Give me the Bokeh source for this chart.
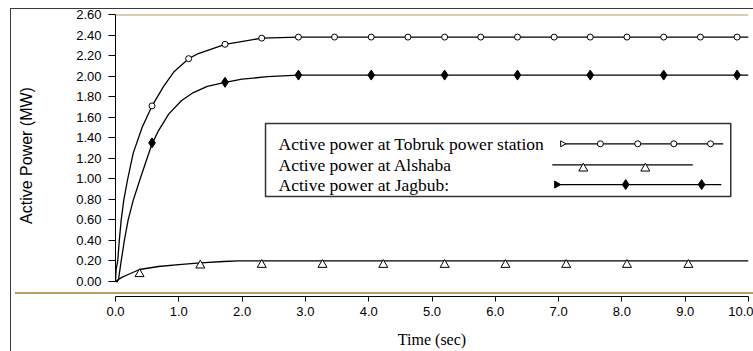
from bokeh.plotting import figure
from bokeh.models import Range1d, FixedTicker, NumeralTickFormatter, Span, Label
from bokeh.embed import file_html
from bokeh.resources import INLINE

# ---- data ----
tobruk_t = [0, 0.01, 0.035, 0.06, 0.09, 0.13, 0.19, 0.28, 0.42, 0.577, 0.76, 0.92, 1.155,
            1.31, 1.73, 1.94, 2.31, 2.89, 10.0]
tobruk_p = [0, 0.12, 0.2, 0.4, 0.6, 0.79, 0.99, 1.25, 1.5, 1.71, 1.9, 2.04, 2.17,
            2.22, 2.31, 2.33, 2.37, 2.38, 2.38]
tobruk_mark_t = [0.577, 1.155, 1.73, 2.31, 2.89, 3.46, 4.04, 4.62, 5.2, 5.77, 6.35, 6.93,
                 7.5, 8.08, 8.66, 9.24, 9.82]
tobruk_mark_p = [1.71, 2.17, 2.31, 2.37, 2.38, 2.38, 2.38, 2.38, 2.38, 2.38, 2.38, 2.38,
                 2.38, 2.38, 2.38, 2.38, 2.38]

alshaba_t = [0, 0.1, 0.2, 0.38, 0.68, 1.0, 1.34, 1.71, 1.94, 2.5, 10.0]
alshaba_p = [0.0, 0.04, 0.068, 0.117, 0.146, 0.165, 0.182, 0.195, 0.2, 0.2, 0.2]
alshaba_mark_t = [0.38, 1.34, 2.31, 3.27, 4.23, 5.2, 6.16, 7.12, 8.08, 9.05]
alshaba_mark_p = [0.073, 0.157, 0.163, 0.163, 0.163, 0.163, 0.163, 0.163, 0.163, 0.163]

jagbub_t = [0, 0.03, 0.05, 0.09, 0.14, 0.2, 0.28, 0.39, 0.51, 0.577, 0.68, 0.84, 1.04,
            1.23, 1.45, 1.73, 2.0, 2.4, 2.89, 10.0]
jagbub_p = [0, 0.0, 0.03, 0.2, 0.4, 0.6, 0.79, 1.0, 1.22, 1.34, 1.47, 1.63, 1.76,
            1.84, 1.9, 1.94, 1.97, 1.995, 2.01, 2.01]
jagbub_mark_t = [0.577, 1.73, 2.89, 4.04, 5.2, 6.35, 7.5, 8.66, 9.82]
jagbub_mark_p = [1.35, 1.94, 2.01, 2.01, 2.01, 2.01, 2.01, 2.01, 2.01]

y_ticks = [0.0, 0.2, 0.4, 0.6, 0.8, 1.0, 1.2, 1.4, 1.6, 1.8, 2.0, 2.2, 2.4, 2.6]
x_ticks = [0, 1, 2, 3, 4, 5, 6, 7, 8, 9, 10]

legend_labels = ["Active power at Tobruk power station",
                 "Active power at Alshaba",
                 "Active power at Jagbub:"]

SANS = "Liberation Sans"
SERIF = "Liberation Serif"
GOLD = "#B3A063"

p = figure(width=753, height=351, output_backend="svg", toolbar_location=None,
           x_range=Range1d(0, 10), y_range=Range1d(-0.146, 2.6),
           min_border_left=115, min_border_right=5, min_border_top=14, min_border_bottom=55)
p.outline_line_color = None
p.grid.grid_line_color = None
p.background_fill_alpha = 0
p.border_fill_alpha = 0
# outer chart frame (left/top edges) and the lower gold rule, drawn behind the canvas
p.styles = {
    "background-color": "white",
    "background-image": ("linear-gradient(#3a3a3a,#3a3a3a), linear-gradient(#3a3a3a,#3a3a3a), "
                         "linear-gradient(%s,%s)" % (GOLD, GOLD)),
    "background-repeat": "no-repeat",
    "background-position": "10px 8px, 10px 8px, 15px 292px",
    "background-size": "1px 100%, 100% 1px, 100% 2px",
}

# axes
p.yaxis.ticker = FixedTicker(ticks=y_ticks)
p.yaxis.formatter = NumeralTickFormatter(format="0.00")
p.yaxis.bounds = (0, 2.6)
p.yaxis.axis_label = "Active Power (MW)"
p.yaxis.axis_label_text_font = SANS
p.yaxis.axis_label_text_font_size = "16px"
p.yaxis.axis_label_text_font_style = "normal"
p.yaxis.axis_label_text_color = "black"
p.yaxis.axis_label_standoff = 38
p.yaxis.major_tick_out = 7
p.yaxis.major_tick_in = 0
p.yaxis.major_label_standoff = 7

p.xaxis.ticker = FixedTicker(ticks=x_ticks)
p.xaxis.formatter = NumeralTickFormatter(format="0.0")
p.xaxis.bounds = (0, 10)
p.xaxis.axis_label = "Time (sec)"
p.xaxis.axis_label_text_font = SERIF
p.xaxis.axis_label_text_font_size = "16px"
p.xaxis.axis_label_text_font_style = "normal"
p.xaxis.axis_label_text_color = "black"
p.xaxis.axis_label_standoff = 12
p.xaxis.major_tick_out = 5
p.xaxis.major_tick_in = 0
p.xaxis.major_label_standoff = 5

for ax in (p.xaxis, p.yaxis):
    ax.minor_tick_line_color = None
    ax.axis_line_color = "black"
    ax.major_tick_line_color = "black"
    ax.major_label_text_font = SANS
    ax.major_label_text_font_size = "13px"
    ax.major_label_text_color = "black"

# upper gold rule
p.add_layout(Span(location=2.6, dimension="width", line_color=GOLD, line_width=2))

# series
p.line(tobruk_t, tobruk_p, line_color="black", line_width=1.3)
p.scatter(tobruk_mark_t, tobruk_mark_p, marker="circle", size=6, fill_color="white",
          line_color="black", line_width=1)
p.line(alshaba_t, alshaba_p, line_color="black", line_width=1.3)
p.scatter(alshaba_mark_t, alshaba_mark_p, marker="triangle", size=9, fill_color="white",
          line_color="black", line_width=1)
p.line(jagbub_t, jagbub_p, line_color="black", line_width=1.3)
p.scatter(jagbub_mark_t, jagbub_mark_p, marker="diamond", size=10, fill_color="black",
          line_color="black", line_width=1)

# legend box (label left, sample right) in data space, drawn beneath the samples
p.quad(left=[2.37], right=[9.72], bottom=[0.828], top=[1.538],
       fill_color="white", line_color="#333333", line_width=1.5)
leg_rows = [1.341, 1.136, 0.944]
for lab, yy in zip(legend_labels, leg_rows):
    p.add_layout(Label(x=2.575, y=yy, text=lab, text_font=SERIF, text_font_size="17.5px",
                       text_baseline="middle", text_color="black"))
# sample lines
p.line([7.06, 9.6], [leg_rows[0]] * 2, line_color="black", line_width=1.3)
p.scatter([7.66, 8.25, 8.82, 9.4], [leg_rows[0]] * 4, marker="circle", size=6,
          fill_color="white", line_color="black")
p.scatter([7.06], [leg_rows[0]], marker="triangle", angle=-1.5708, size=6,
          fill_color="white", line_color="black")
p.line([6.9, 9.12], [leg_rows[1]] * 2, line_color="black", line_width=1.3)
p.scatter([7.39, 8.37], [leg_rows[1] - 0.035] * 2, marker="triangle", size=9,
          fill_color="white", line_color="black")
p.line([6.95, 9.57], [leg_rows[2]] * 2, line_color="black", line_width=1.3)
p.scatter([8.06, 9.26], [leg_rows[2]] * 2, marker="diamond", size=10,
          fill_color="black", line_color="black")
p.scatter([6.97], [leg_rows[2]], marker="triangle", angle=-1.5708, size=7,
          fill_color="black", line_color="black")

open("out.html", "w").write(file_html(p, INLINE))
